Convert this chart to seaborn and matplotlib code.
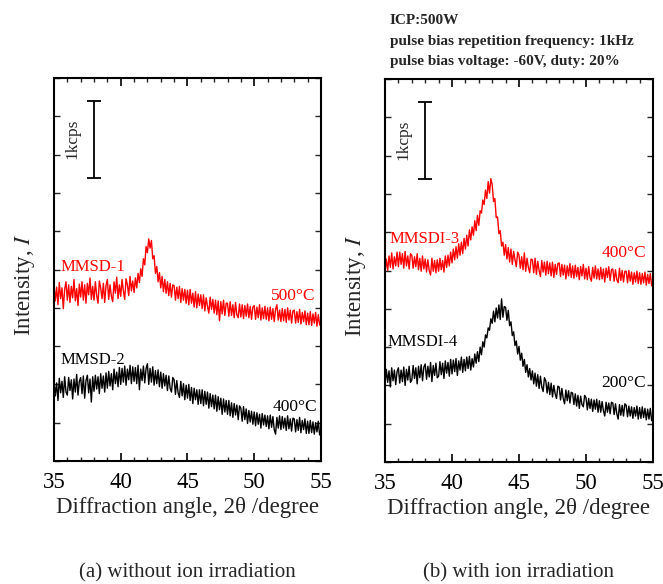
import numpy as np
import pandas as pd
import seaborn as sns
import matplotlib
matplotlib.use("Agg")
import matplotlib.pyplot as plt
from matplotlib.ticker import MultipleLocator

# scan axis: 35.0 -> 55.0 deg, 0.1 deg step
angle_start = 35.0
angle_step = 0.1

# (a) without ion irradiation, counts per second
mmsd1_500C = [
    2290, 2090, 2270, 2040, 2330, 2120, 2260, 1990, 2240, 2340,
    2100, 2300, 2070, 2280, 2130, 2370, 2090, 2250, 2030, 2310,
    2140, 2340, 2100, 2300, 2060, 2320, 2170, 2390, 2110, 2280,
    2100, 2340, 2160, 2060, 2350, 2260, 2120, 2320, 2070, 2290,
    2370, 2110, 2300, 2150, 2080, 2340, 2190, 2400, 2120, 2300,
    2150, 2370, 2220, 2110, 2380, 2300, 2160, 2410, 2220, 2350,
    2200, 2390, 2260, 2450, 2330, 2510, 2410, 2640, 2560, 2800,
    2720, 2900, 2780, 2880, 2640, 2680, 2450, 2540, 2340, 2460,
    2260, 2410, 2210, 2370, 2190, 2340, 2160, 2320, 2140, 2300,
    2290, 2100, 2270, 2120, 2280, 2070, 2250, 2100, 2240, 2060,
    2230, 2040, 2240, 2060, 2190, 2010, 2210, 2000, 2180, 2030,
    2170, 1990, 2170, 1960, 2130, 2020, 1930, 2140, 1980, 2110,
    1930, 2100, 1910, 2090, 1830, 2080, 1920, 2100, 1900, 2060,
    2060, 1890, 2080, 1900, 2040, 1870, 2070, 1910, 1870, 2050,
    1880, 2040, 1860, 2030, 1890, 2050, 1870, 2020, 1850, 2010,
    2030, 1850, 2010, 1870, 2040, 1840, 2000, 1860, 2020, 1850,
    2000, 1830, 2010, 1850, 1990, 1820, 1980, 2040, 1840, 1970,
    1820, 1990, 1830, 1980, 1810, 2000, 1840, 1970, 1800, 1960,
    1970, 1800, 1950, 1810, 1980, 1790, 1940, 1820, 1960, 1780,
    1930, 1780, 1950, 1770, 1920, 1800, 1940, 1760, 1910, 1780,
    1760,
]
mmsd2_400C = [
    1040, 850, 1020, 790, 1080, 890, 1040, 830, 1100, 900,
    860, 1090, 920, 1060, 810, 1070, 900, 1130, 860, 1040,
    1090, 880, 1110, 820, 1050, 1120, 890, 1070, 770, 1100,
    910, 1120, 940, 1100, 880, 1140, 950, 1110, 900, 1150,
    950, 1170, 980, 1140, 930, 1200, 1010, 1160, 970, 1220,
    1000, 1210, 1030, 1240, 990, 1200, 1060, 1250, 1010, 1230,
    1040, 1220, 1010, 1250, 930, 1200, 1050, 1240, 1020, 1210,
    1270, 1000, 1210, 1030, 1230, 990, 1180, 1010, 1190, 970,
    1160, 950, 1140, 980, 1120, 920, 1110, 950, 900, 1090,
    1060, 870, 1050, 890, 830, 1040, 850, 1010, 800, 990,
    820, 1000, 790, 960, 750, 950, 800, 930, 740, 930,
    750, 930, 720, 910, 740, 900, 690, 880, 710, 860,
    680, 860, 650, 840, 670, 820, 610, 810, 640, 790,
    610, 790, 590, 760, 570, 750, 600, 730, 540, 720,
    690, 520, 710, 540, 680, 490, 660, 510, 650, 480,
    640, 460, 630, 480, 610, 430, 620, 470, 600, 450,
    590, 420, 600, 440, 580, 410, 350, 570, 430, 590,
    410, 580, 430, 560, 400, 590, 420, 550, 390, 560,
    550, 380, 540, 400, 570, 370, 530, 410, 550, 360,
    520, 360, 530, 370, 510, 350, 500, 380, 520, 340,
    400,
]

# (b) with ion irradiation, counts per second
mmsdi3_400C = [
    2480, 2650, 2500, 2690, 2540, 2730, 2520, 2680, 2560, 2740,
    2550, 2740, 2580, 2720, 2530, 2750, 2560, 2690, 2520, 2720,
    2700, 2530, 2680, 2550, 2720, 2510, 2660, 2490, 2690, 2520,
    2650, 2480, 2640, 2500, 2440, 2660, 2490, 2630, 2470, 2640,
    2490, 2660, 2510, 2630, 2480, 2690, 2540, 2700, 2560, 2740,
    2600, 2780, 2640, 2810, 2660, 2850, 2700, 2870, 2720, 2920,
    2780, 2960, 2820, 3030, 2900, 3070, 2960, 3150, 3020, 3220,
    3090, 3280, 3250, 3420, 3360, 3550, 3440, 3660, 3510, 3700,
    3620, 3400, 3440, 3190, 3200, 2980, 3020, 2820, 2870, 2700,
    2840, 2650, 2800, 2610, 2780, 2580, 2750, 2640, 2550, 2740,
    2700, 2530, 2680, 2510, 2730, 2490, 2660, 2540, 2470, 2650,
    2640, 2470, 2660, 2450, 2620, 2500, 2420, 2630, 2480, 2610,
    2440, 2620, 2460, 2600, 2430, 2610, 2410, 2580, 2450, 2590,
    2600, 2420, 2580, 2440, 2570, 2390, 2560, 2430, 2590, 2410,
    2560, 2400, 2570, 2420, 2540, 2380, 2550, 2430, 2580, 2390,
    2530, 2380, 2550, 2410, 2360, 2540, 2400, 2560, 2390, 2520,
    2380, 2540, 2390, 2520, 2350, 2530, 2410, 2550, 2370, 2510,
    2520, 2360, 2510, 2380, 2340, 2530, 2370, 2500, 2350, 2490,
    2490, 2340, 2500, 2360, 2480, 2320, 2470, 2350, 2490, 2330,
    2470, 2320, 2460, 2340, 2480, 2310, 2450, 2330, 2460, 2300,
    2360,
]
mmsdi4_200C = [
    1020, 1210, 1040, 1190, 980, 1230, 1060, 1200, 1010, 1180,
    1230, 1030, 1200, 1050, 1240, 1000, 1210, 1070, 1250, 1040,
    1070, 1260, 1090, 1230, 1020, 1250, 1100, 1270, 1060, 1240,
    1280, 1080, 1250, 1110, 1300, 1050, 1260, 1130, 1290, 1100,
    1120, 1310, 1140, 1290, 1090, 1320, 1160, 1300, 1120, 1340,
    1150, 1330, 1180, 1350, 1130, 1320, 1200, 1370, 1170, 1340,
    1190, 1370, 1220, 1380, 1200, 1350, 1240, 1410, 1290, 1440,
    1310, 1500, 1400, 1570, 1500, 1660, 1620, 1750, 1720, 1870,
    1810, 1970, 1830, 2010, 1880, 2050, 1860, 2130, 1890, 2030,
    2020, 1850, 1980, 1780, 1830, 1650, 1700, 1520, 1580, 1410,
    1510, 1330, 1420, 1250, 1340, 1170, 1270, 1110, 1220, 1070,
    1190, 1020, 1160, 990, 1140, 960, 1120, 980, 920, 1100,
    1060, 900, 1040, 880, 1030, 850, 1000, 890, 830, 990,
    980, 810, 960, 830, 760, 940, 800, 930, 770, 910,
    900, 750, 890, 730, 870, 700, 860, 750, 720, 870,
    840, 680, 830, 700, 820, 660, 810, 690, 820, 650,
    800, 650, 790, 670, 600, 780, 650, 770, 630, 780,
    770, 620, 760, 630, 560, 750, 610, 740, 600, 760,
    740, 590, 730, 600, 720, 570, 710, 600, 730, 560,
    710, 570, 720, 580, 700, 550, 690, 560, 700, 540,
    610,
]

# scale bar (1 kcps)
bar_angle = 38.0
bar_low, bar_high = 3700, 4700

sns.set_theme(style="ticks")
plt.rcParams["font.family"] = ["Liberation Serif", "DejaVu Serif"]
plt.rcParams["mathtext.fontset"] = "stix"
plt.rcParams["axes.linewidth"] = 1.5


def scan(values, name):
    angle = np.round(angle_start + angle_step * np.arange(len(values)), 1)
    return pd.DataFrame({"angle": angle, "intensity": values, "sample": name})


panels = [
    {
        "df": pd.concat([scan(mmsd1_500C, "MMSD-1"), scan(mmsd2_400C, "MMSD-2")]),
        "labels": [("MMSD-1", 35.5, 2530, "red"), ("MMSD-2", 35.5, 1320, "black")],
        "temps": [("500°C", 54.6, 2150, "red"), ("400°C", 54.7, 705, "black")],
        "caption": "(a) without ion irradiation",
    },
    {
        "df": pd.concat([scan(mmsdi3_400C, "MMSDI-3"), scan(mmsdi4_200C, "MMSDI-4")]),
        "labels": [("MMSDI-3", 35.3, 2910, "red"), ("MMSDI-4", 35.2, 1566, "black")],
        "temps": [("400°C", 54.5, 2727, "red"), ("200°C", 54.5, 1030, "black")],
        "caption": "(b) with ion irradiation",
    },
]

fig = plt.figure(figsize=(6.63, 5.84), dpi=100)
axes = [fig.add_axes([0.0814, 0.2106, 0.4027, 0.6558]),
        fig.add_axes([0.5807, 0.2089, 0.4042, 0.6558])]

for ax, p in zip(axes, panels):
    names = p["df"]["sample"].unique()
    sns.lineplot(data=p["df"], x="angle", y="intensity", hue="sample",
                 palette={names[0]: "red", names[1]: "black"},
                 estimator=None, sort=False, linewidth=1.0, legend=False, ax=ax)
    ax.set_xlim(35, 55)
    ax.set_ylim(0, 5000)
    ax.xaxis.set_major_locator(MultipleLocator(5))
    ax.xaxis.set_minor_locator(MultipleLocator(1))
    ax.yaxis.set_major_locator(MultipleLocator(500))
    ax.tick_params(axis="x", which="major", direction="in", length=6, width=1.2,
                   top=True, labelsize=16.5, pad=8, colors="black")
    ax.tick_params(axis="x", which="minor", direction="in", length=3, width=1.0,
                   top=True)
    ax.tick_params(axis="y", which="major", direction="in", length=4, width=1.0,
                   right=True, labelleft=False)
    for s in ax.spines.values():
        s.set_visible(True)
        s.set_color("black")
        s.set_linewidth(1.5)
    ax.set_xlabel("Diffraction angle, 2θ /degree", fontsize=16.5, labelpad=3)
    ax.set_ylabel("Intensity, $I$", fontsize=16.5)
    ax.yaxis.set_label_coords(-0.063, 0.46)

    mid = (bar_low + bar_high) / 2
    ax.errorbar([bar_angle], [mid], yerr=[(bar_high - bar_low) / 2], color="black",
                capsize=5, elinewidth=1.3, capthick=1.3, fmt="none")
    ax.text(bar_angle - 1.6, mid, "1kcps", rotation=90, ha="center", va="center",
            fontsize=12.5)

    for txt, x, y, c in p["labels"]:
        ax.text(x, y, txt, color=c, ha="left", va="center", fontsize=12)
    for txt, x, y, c in p["temps"]:
        ax.text(x, y, txt, color=c, ha="right", va="center", fontsize=12.5)

    pos = ax.get_position()
    fig.text(pos.x0 + pos.width / 2, 1 - 573 / 584, p["caption"], ha="center",
             va="center", fontsize=15)

top_lines = ["ICP:500W",
             "pulse bias repetition frequency: 1kHz",
             "pulse bias voltage: -60V, duty: 20%"]
for i, line in enumerate(top_lines):
    fig.text(390 / 663, 1 - (20 + 21 * i) / 584, line, ha="left", va="center",
             fontsize=11, fontweight="bold")

fig.savefig("out.png", dpi=100)
